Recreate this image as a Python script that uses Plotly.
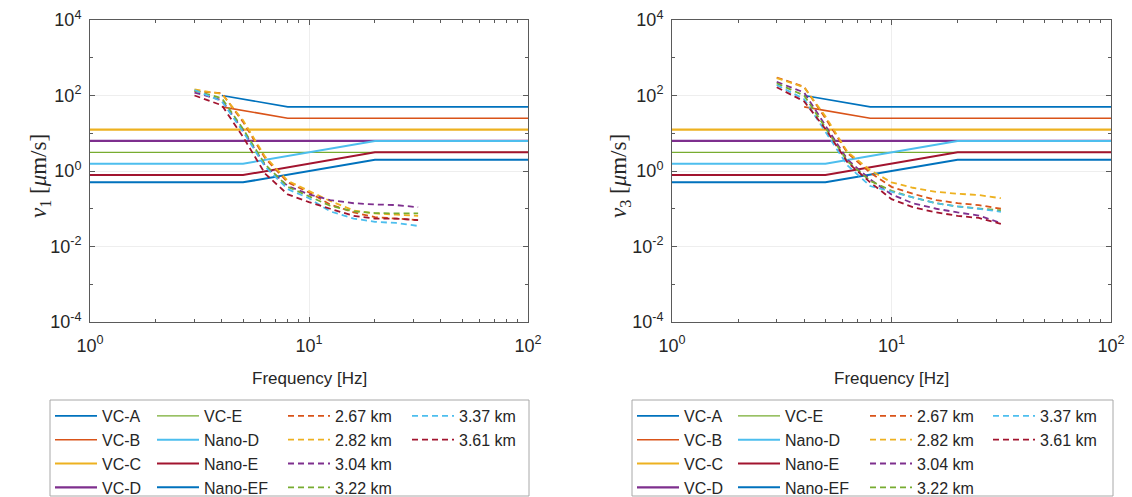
import plotly.graph_objects as go

# ---------------- data ----------------
# vibration criteria curves (same in both panels): frequency [Hz], velocity [um/s]
crit_names = ["VC-A", "VC-B", "VC-C", "VC-D", "VC-E", "Nano-D", "Nano-E", "Nano-EF"]
vca_f = [4, 8, 100];        vca_v = [100, 50, 50]
vcb_f = [4, 8, 100];        vcb_v = [50, 25, 25]
vcc_f = [1, 100];           vcc_v = [12.5, 12.5]
vcd_f = [1, 100];           vcd_v = [6.25, 6.25]
vce_f = [1, 100];           vce_v = [3.12, 3.12]
nanod_f = [1, 5, 20, 100];  nanod_v = [1.56, 1.56, 6.25, 6.25]
nanoe_f = [1, 5, 20, 100];  nanoe_v = [0.78, 0.78, 3.12, 3.12]
nanoef_f = [1, 5, 20, 100]; nanoef_v = [0.5, 0.5, 2.0, 2.0]

# measured spectra (one-third octave bands)
band_f = [3, 4, 5, 6.3, 8, 10, 12.5, 16, 20, 25, 31.5]
site_names = ["2.67 km", "2.82 km", "3.04 km", "3.22 km", "3.37 km", "3.61 km"]

# v1 (left panel)
v1_267 = [130, 115, 20, 2.2, 0.50, 0.27, 0.13, 0.080, 0.060, 0.055, 0.050]
v1_282 = [145, 110, 22, 2.4, 0.55, 0.30, 0.16, 0.090, 0.075, 0.070, 0.065]
v1_304 = [120, 75, 12, 1.4, 0.40, 0.24, 0.17, 0.140, 0.130, 0.125, 0.110]
v1_322 = [135, 85, 13, 1.5, 0.38, 0.21, 0.12, 0.085, 0.077, 0.075, 0.075]
v1_337 = [140, 70, 11, 1.3, 0.33, 0.19, 0.085, 0.055, 0.045, 0.042, 0.035]
v1_361 = [100, 55, 8, 0.85, 0.24, 0.15, 0.10, 0.065, 0.055, 0.055, 0.050]

# v3 (right panel)
v3_267 = [300, 170, 25, 3.0, 0.90, 0.38, 0.25, 0.17, 0.14, 0.125, 0.100]
v3_282 = [290, 165, 28, 3.2, 1.05, 0.50, 0.36, 0.28, 0.25, 0.23, 0.19]
v3_304 = [230, 120, 16, 2.0, 0.60, 0.24, 0.14, 0.10, 0.080, 0.066, 0.042]
v3_322 = [210, 100, 14, 1.8, 0.55, 0.30, 0.20, 0.14, 0.115, 0.100, 0.090]
v3_337 = [190, 80, 11, 1.4, 0.40, 0.28, 0.20, 0.14, 0.115, 0.100, 0.083]
v3_361 = [165, 70, 13, 1.7, 0.50, 0.18, 0.11, 0.080, 0.065, 0.057, 0.040]

x_tick_vals = [1, 10, 100]
x_tick_text = ["10<sup>0</sup>", "10<sup>1</sup>", "10<sup>2</sup>"]
y_tick_vals = [1e-4, 1e-2, 1, 1e2, 1e4]
y_tick_text = ["10<sup>-4</sup>", "10<sup>-2</sup>", "10<sup>0</sup>", "10<sup>2</sup>", "10<sup>4</sup>"]
x_minor_vals = [2, 3, 4, 5, 6, 7, 8, 9, 20, 30, 40, 50, 60, 70, 80, 90]
y_minor_vals = [1e-3, 1e-1, 10, 1e3]

# ---------------- styling ----------------
C_BLUE = "#0072BD"; C_ORANGE = "#D95319"; C_YELLOW = "#EDB120"; C_PURPLE = "#7E2F8E"
C_GREEN = "#77AC30"; C_CYAN = "#4DBEEE"; C_RED = "#A2142F"

crit_data = [(vca_f, vca_v), (vcb_f, vcb_v), (vcc_f, vcc_v), (vcd_f, vcd_v),
             (vce_f, vce_v), (nanod_f, nanod_v), (nanoe_f, nanoe_v), (nanoef_f, nanoef_v)]
crit_colors = [C_BLUE, C_ORANGE, C_YELLOW, C_PURPLE, C_GREEN, C_CYAN, C_RED, C_BLUE]
crit_widths = [1.6, 1.6, 2.2, 2.2, 1.3, 2.0, 2.0, 2.0]
site_colors = [C_ORANGE, C_YELLOW, C_PURPLE, C_GREEN, C_CYAN, C_RED]
v1_sets = [v1_267, v1_282, v1_304, v1_322, v1_337, v1_361]
v3_sets = [v3_267, v3_282, v3_304, v3_322, v3_337, v3_361]

W, H = 1132, 497
def px(x): return x / W
def py(y): return 1 - y / H

fig = go.Figure()

def legend_key(panel, col):
    return "legend" if (panel == 0 and col == 0) else "legend%d" % (panel * 4 + col + 1)

for panel, (xa, ya, vsets) in enumerate([("x", "y", v1_sets), ("x2", "y2", v3_sets)]):
    for i, name in enumerate(crit_names):
        f, v = crit_data[i]
        fig.add_trace(go.Scatter(x=f, y=v, mode="lines", name=name, xaxis=xa, yaxis=ya,
                                 line=dict(color=crit_colors[i], width=crit_widths[i]),
                                 legend=legend_key(panel, i // 4)))
    for j, name in enumerate(site_names):
        fig.add_trace(go.Scatter(x=band_f, y=vsets[j], mode="lines", name=name, xaxis=xa, yaxis=ya,
                                 line=dict(color=site_colors[j], width=1.8, dash="6px,4px"),
                                 legend=legend_key(panel, 2 + j // 4)))

axis_common = dict(type="log", showline=True, linecolor="#5a5a5a", linewidth=1, mirror="allticks",
                   ticks="inside", ticklen=5, tickcolor="#5a5a5a", tickmode="array",
                   showgrid=True, gridcolor="#eeeeee", gridwidth=1, zeroline=False, automargin=False,
                   tickfont=dict(family="Liberation Sans, Arial", size=18, color="#262626"))

x_dom = [[px(90), px(528)], [px(672), px(1111)]]
y_dom = [py(322), py(20)]

layout = dict(width=W, height=H, margin=dict(l=0, r=0, t=0, b=0, autoexpand=False),
              plot_bgcolor="white", paper_bgcolor="white", showlegend=True)

for k in range(2):
    sx = "" if k == 0 else "2"
    layout["xaxis" + sx] = dict(axis_common, range=[0, 2], domain=x_dom[k], anchor="y" + sx,
                                tickvals=x_tick_vals, ticktext=x_tick_text, ticklabelstandoff=7,
                                minor=dict(tickmode="array", tickvals=x_minor_vals, ticks="inside",
                                           ticklen=3, tickcolor="#5a5a5a", showgrid=False))
    layout["yaxis" + sx] = dict(axis_common, range=[-4, 4], domain=y_dom, anchor="x" + sx,
                                tickvals=y_tick_vals, ticktext=y_tick_text, ticklabelstandoff=4,
                                minor=dict(tickmode="array", tickvals=y_minor_vals, ticks="inside",
                                           ticklen=3, tickcolor="#5a5a5a", showgrid=False))

leg_x = [[50, 152, 283, 407], [632, 733, 865, 988]]
for panel in range(2):
    for col in range(4):
        layout[legend_key(panel, col)] = dict(
            x=px(leg_x[panel][col]), y=py(399), xanchor="left", yanchor="top",
            bgcolor="rgba(0,0,0,0)", borderwidth=0, itemwidth=42,
            tracegroupgap=0, orientation="v",
            font=dict(family="Liberation Sans, Arial", size=16, color="#262626"))

fig.update_layout(**layout)

# legend frames
for x0, x1 in [(50, 529), (632, 1113)]:
    fig.add_shape(type="rect", xref="paper", yref="paper", x0=px(x0), x1=px(x1),
                  y0=py(496), y1=py(400), line=dict(color="#a8a8a8", width=1))

# axis titles
for xc, sub in [(40, "1"), (620, "3")]:
    fig.add_annotation(xref="paper", yref="paper", x=px(xc), y=py(176), showarrow=False,
                       textangle=-90, xanchor="center", yanchor="middle",
                       text="<i>v</i><sub>%s</sub> [<i>μ</i>m/s]" % sub,
                       font=dict(family="Liberation Serif, Times New Roman", size=23, color="#262626"))
for xc in [309, 891]:
    fig.add_annotation(xref="paper", yref="paper", x=px(xc), y=py(378), showarrow=False,
                       xanchor="center", yanchor="middle", text="Frequency [Hz]",
                       font=dict(family="Liberation Sans, Arial", size=17, color="#262626"))

fig.write_html("out.html", config={"displayModeBar": False},
               post_script="document.body.style.margin='0';document.body.style.overflow='hidden';")
